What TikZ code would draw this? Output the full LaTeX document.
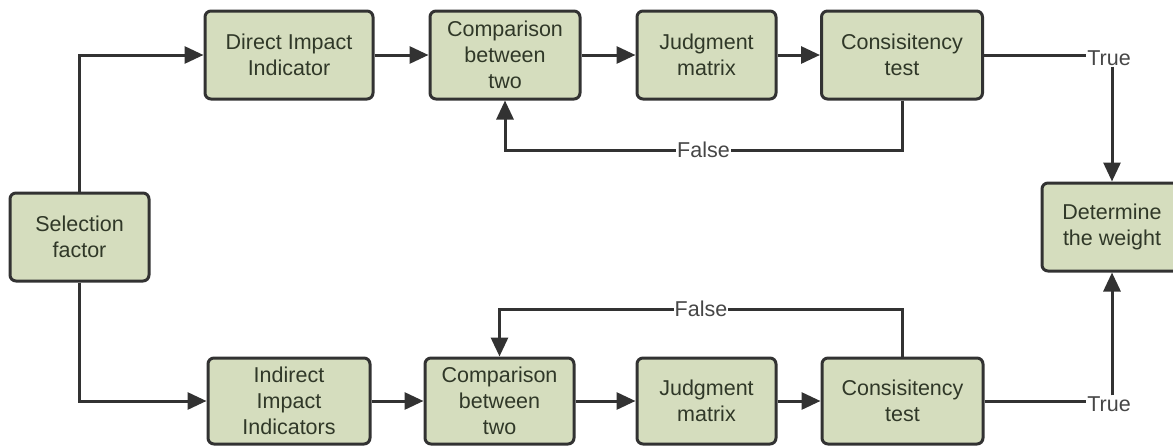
\documentclass[tikz,border=0pt]{standalone}
\usepackage{fontspec}
\setmainfont{Liberation Sans}
\usetikzlibrary{arrows.meta}
\definecolor{boxfill}{RGB}{213,221,190}
\definecolor{boxline}{RGB}{50,50,50}
\definecolor{boxtext}{RGB}{48,56,40}
\definecolor{labtext}{RGB}{70,70,70}
\tikzset{
  stagebox/.style={draw=boxline, fill=boxfill, line width=3pt, rounded corners=6pt,
    align=center, text=boxtext, font=\fontsize{21.5}{26}\selectfont, inner sep=0pt},
  conn/.style={draw=boxline, line width=3pt},
  arr/.style={conn, -{Triangle[length=19pt,width=17pt]}},
  lab/.style={text=labtext, font=\fontsize{21.5}{24}\selectfont, inner sep=1pt, fill=white}
}
\begin{document}
\begin{tikzpicture}[x=1pt,y=-1pt]
\useasboundingbox (0,0) rectangle (1173,445);
% top row
\node[stagebox, minimum width=168pt, minimum height=88pt] (dir) at (289,55) {Direct Impact\\Indicator};
\node[stagebox, minimum width=150pt, minimum height=88pt] (comp1) at (505,55) {Comparison\\between\\two};
\node[stagebox, minimum width=139pt, minimum height=88pt] (judg1) at (706.5,55) {Judgment\\matrix};
\node[stagebox, minimum width=161pt, minimum height=88pt] (cons1) at (902,55) {Consisitency\\test};
% left / right
\node[stagebox, minimum width=139pt, minimum height=88pt] (sel) at (79.5,237) {Selection\\factor};
\node[stagebox, minimum width=140pt, minimum height=88pt] (det) at (1112,227) {Determine\\the weight};
% bottom row
\node[stagebox, minimum width=162pt, minimum height=86pt] (ind) at (289,401) {Indirect\\Impact\\Indicators};
\node[stagebox, minimum width=149pt, minimum height=86pt] (comp2) at (499.5,401) {Comparison\\between\\two};
\node[stagebox, minimum width=139pt, minimum height=86pt] (judg2) at (706.5,401) {Judgment\\matrix};
\node[stagebox, minimum width=161pt, minimum height=86pt] (cons2) at (902.5,401) {Consisitency\\test};
% labels
\node[lab] (true1) at (1109,58) {True};
\node[lab] (true2) at (1109,404) {True};
\coordinate (f1) at (902,150);
\coordinate (f2) at (902.5,309);
% connectors
\draw[arr] (sel.north) |- (dir.west);
\draw[arr] (sel.south) |- (ind.west);
\draw[arr] (dir) -- (comp1);
\draw[arr] (comp1) -- (judg1);
\draw[arr] (judg1) -- (cons1);
\draw[arr] (ind) -- (comp2);
\draw[arr] (comp2) -- (judg2);
\draw[arr] (judg2) -- (cons2);
\draw[conn] (cons1.east) -- (cons1.east -| true1.west);
\draw[arr] (true1.south -| det.north) -- (det.north);
\draw[conn] (cons2.east) -- (cons2.east -| true2.west);
\draw[arr] (true2.north -| det.south) -- (det.south);
\draw[arr] (cons1.south) -- (f1) -| (comp1.south) node[lab, pos=0.25] {False};
\draw[arr] (cons2.north) -- (f2) -| (comp2.north) node[lab, pos=0.25] {False};
\end{tikzpicture}
\end{document}
